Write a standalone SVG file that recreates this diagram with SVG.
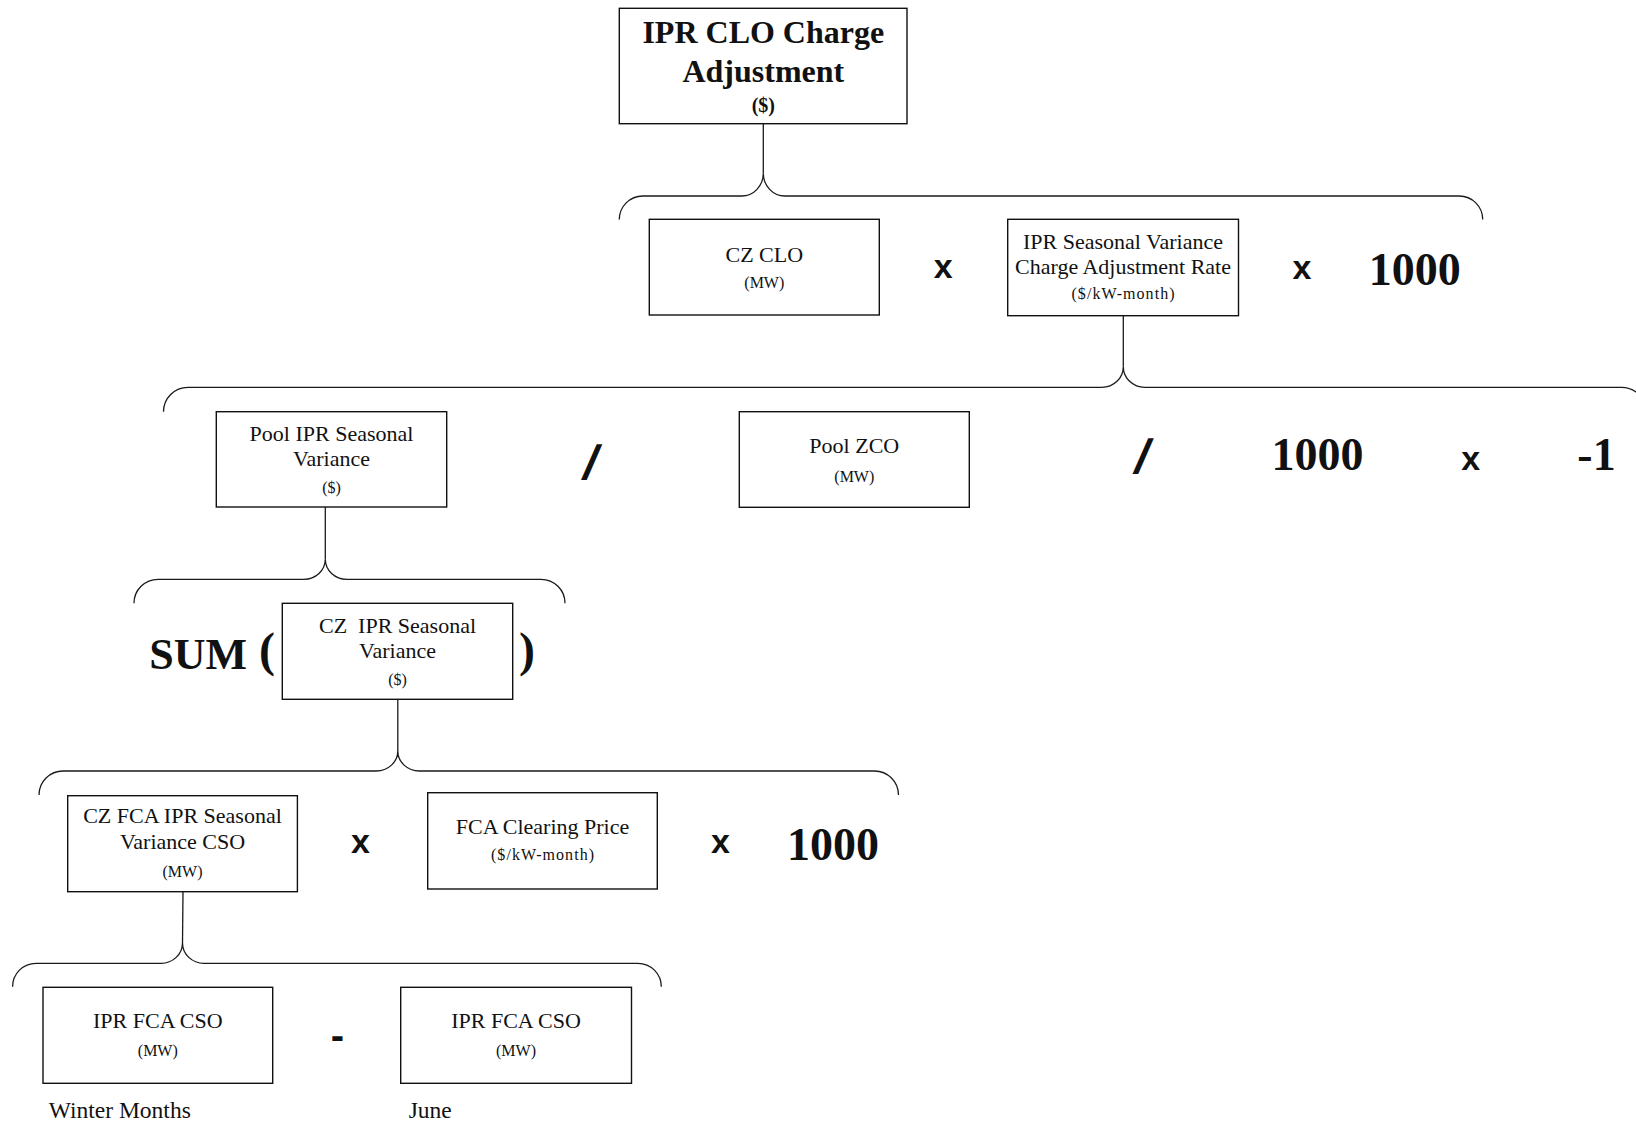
<svg xmlns="http://www.w3.org/2000/svg" width="1636" height="1123" viewBox="0 0 1636 1123">
<style>
  .bg{fill:#fff}
  .box{fill:#fff;stroke:#111;stroke-width:1.4}
  .br{fill:none;stroke:#1a1a1a;stroke-width:1.3}
  .t{font-family:"Liberation Serif","Times New Roman",serif;font-size:22px;fill:#111;text-anchor:middle}
  .s{font-family:"Liberation Serif","Times New Roman",serif;font-size:16px;fill:#111;text-anchor:middle}
  .title{font-family:"Liberation Serif","Times New Roman",serif;font-size:32px;font-weight:bold;fill:#111;text-anchor:middle}
  .op{font-family:"Liberation Sans",Arial,sans-serif;font-size:34px;font-weight:bold;fill:#111;text-anchor:middle}
  .num{font-family:"Liberation Serif","Times New Roman",serif;font-size:46px;font-weight:bold;fill:#111;text-anchor:middle}
  .lbl{font-family:"Liberation Serif","Times New Roman",serif;font-size:23.5px;fill:#111}
</style>
<rect class="bg" x="0" y="0" width="1636" height="1123"/>

<g id="connectors">
  <line class="br" x1="763.3" y1="123.7" x2="763.3" y2="173.3"/>
  <path class="br" d="M619.3,219.5 A23.5,23.5 0 0 1 642.8,196 L741.8,196 A21.5,22.7 0 0 0 763.3,173.3 A21.5,22.7 0 0 0 784.8,196 L1459.2,196 A23.5,23.5 0 0 1 1482.7,219.5"/>
  <line class="br" x1="1123.3" y1="315.7" x2="1123.3" y2="366.7"/>
  <path class="br" d="M163.5,411.7 A24.4,24.4 0 0 1 187.9,387.3 L1101.8,387.3 A21.5,20.6 0 0 0 1123.3,366.7 A21.5,20.6 0 0 0 1144.8,387.3 L1621.6,387.3 A24.4,24.4 0 0 1 1646,411.7"/>
  <line class="br" x1="325.3" y1="507" x2="325.3" y2="559.3"/>
  <path class="br" d="M134,603.3 A24,24 0 0 1 158,579.3 L303.8,579.3 A21.5,20 0 0 0 325.3,559.3 A21.5,20 0 0 0 346.8,579.3 L541,579.3 A24,24 0 0 1 565,603.3"/>
  <line class="br" x1="397.8" y1="699.3" x2="397.8" y2="751"/>
  <path class="br" d="M39,795 A24,24 0 0 1 63,771 L376.3,771 A21.5,20 0 0 0 397.8,751 A21.5,20 0 0 0 419.3,771 L874.5,771 A24,24 0 0 1 898.5,795"/>
  <line class="br" x1="183" y1="891.7" x2="182.5" y2="943"/>
  <path class="br" d="M12.6,986.7 A23.4,23.4 0 0 1 36,963.3 L161,963.3 A21.5,20.3 0 0 0 182.5,943 A21.5,20.3 0 0 0 204,963.3 L637.9,963.3 A23.4,23.4 0 0 1 661.3,986.7"/>
</g>

<g id="n-ipr-clo">
  <rect class="box" x="619.3" y="8.3" width="287.7" height="115.4"/>
  <text class="title" x="763.3" y="43">IPR CLO Charge</text>
  <text class="title" x="763.3" y="82">Adjustment</text>
  <text class="title" x="763.3" y="112" style="font-size:20px">($)</text>
</g>

<g id="n-cz-clo">
  <rect class="box" x="649.3" y="219.3" width="230" height="95.7"/>
  <text class="t" x="764.3" y="261.7">CZ CLO</text>
  <text class="s" x="764.3" y="288">(MW)</text>
</g>
<text class="op" x="943.3" y="278">x</text>

<g id="n-ipr-rate">
  <rect class="box" x="1007.7" y="219.3" width="230.8" height="96.4"/>
  <text class="t" x="1123" y="249">IPR Seasonal Variance</text>
  <text class="t" x="1123" y="274.3">Charge Adjustment Rate</text>
  <text class="s" x="1123" y="299.3" textLength="103">($/kW-month)</text>
</g>
<text class="op" x="1302" y="279">x</text>
<text class="num" x="1414.7" y="285">1000</text>

<g id="n-pool-ipr">
  <rect class="box" x="216.3" y="411.7" width="230.4" height="95.3"/>
  <text class="t" x="331.5" y="441">Pool IPR Seasonal</text>
  <text class="t" x="331.5" y="466">Variance</text>
  <text class="s" x="331.5" y="493.3">($)</text>
</g>
<text class="op" transform="translate(587.5,479) skewX(-14)" x="0" y="0" style="font-size:48px">/</text>

<g id="n-pool-zco">
  <rect class="box" x="739.3" y="411.7" width="230" height="95.6"/>
  <text class="t" x="854.3" y="452.7">Pool ZCO</text>
  <text class="s" x="854.3" y="481.7">(MW)</text>
</g>
<text class="op" transform="translate(1139,473) skewX(-14)" x="0" y="0" style="font-size:48px">/</text>
<text class="num" x="1317.4" y="470">1000</text>
<text class="op" x="1470.6" y="470">x</text>
<text class="num" x="1596.5" y="470">-1</text>

<text class="num" x="149.3" y="669.3" style="text-anchor:start;font-size:44px">SUM</text>
<text class="num" x="267" y="666" style="font-size:48px">(</text>
<g id="n-cz-ipr">
  <rect class="box" x="282.3" y="603.3" width="230.4" height="96"/>
  <text class="t" x="397.5" y="633.3" xml:space="preserve">CZ  IPR Seasonal</text>
  <text class="t" x="397.5" y="658.3">Variance</text>
  <text class="s" x="397.5" y="685">($)</text>
</g>
<text class="num" x="527" y="666" style="font-size:48px">)</text>

<g id="n-cz-fca">
  <rect class="box" x="67.7" y="795.7" width="229.7" height="96"/>
  <text class="t" x="182.5" y="823.3">CZ FCA IPR Seasonal</text>
  <text class="t" x="182.5" y="849">Variance CSO</text>
  <text class="s" x="182.5" y="876.7">(MW)</text>
</g>
<text class="op" x="360.5" y="853">x</text>

<g id="n-fca-price">
  <rect class="box" x="427.7" y="792.7" width="229.6" height="96.3"/>
  <text class="t" x="542.5" y="834.3">FCA Clearing Price</text>
  <text class="s" x="542.5" y="860" textLength="103">($/kW-month)</text>
</g>
<text class="op" x="720.5" y="853">x</text>
<text class="num" x="833" y="860">1000</text>

<g id="n-ipr-fca-winter">
  <rect class="box" x="43" y="987.3" width="229.7" height="96"/>
  <text class="t" x="157.8" y="1028.3">IPR FCA CSO</text>
  <text class="s" x="157.8" y="1056">(MW)</text>
</g>
<text class="op" x="337.5" y="1049" style="font-size:40px">-</text>

<g id="n-ipr-fca-june">
  <rect class="box" x="400.7" y="987.3" width="230.8" height="96"/>
  <text class="t" x="516" y="1028.3">IPR FCA CSO</text>
  <text class="s" x="516" y="1056">(MW)</text>
</g>

<text class="lbl" x="48.8" y="1118">Winter Months</text>
<text class="lbl" x="408.7" y="1118">June</text>
</svg>
